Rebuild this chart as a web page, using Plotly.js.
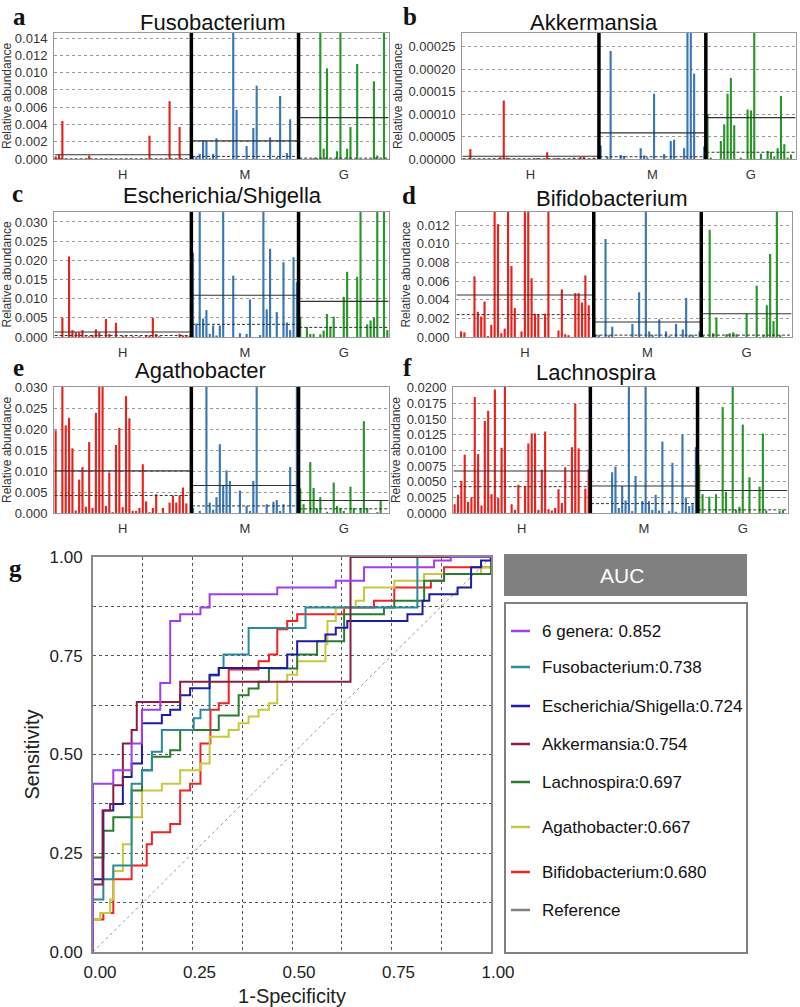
<!DOCTYPE html>
<html><head><meta charset="utf-8">
<script src="https://cdn.plot.ly/plotly-3.0.1.min.js"></script>
<style>html,body{margin:0;padding:0;background:#fff}#chart{width:800px;height:1007px}</style>
</head><body><div id="chart"></div>
<script>
// ---------- data ----------
const groupLabels = ['H', 'M', 'G'];
const groupSizes = [41, 32, 27];
const panelNames = ['Fusobacterium', 'Akkermansia', 'Escherichia/Shigella', 'Bifidobacterium', 'Agathobacter', 'Lachnospira'];
const panelLetters = ['a', 'b', 'c', 'd', 'e', 'f'];

const fusoH = [0.0003,0.0005,0.0044,0,0,0,0,0,0,0, 0.0004,0,0,0,0,0,0,0,0,0, 0,0,0,0,0,0,0,0,0.0027,0, 0,0,0,0,0.0067,0,0,0.0037,0,0, 0];
const fusoM = [0.0003,0.0003,0.0006,0.0022,0.0021,0.0001,0.0006,0.0024,0,0, 0,0,0.025,0.0057,0,0,0.0015,0,0.0036,0.0085, 0,0,0,0.0025,0,0.0002,0.0073,0,0.0007,0.0046, 0,0];
const fusoG = [0,0,0,0,0.0001,0.0001,0.02,0.0012,0.0105,0, 0,0.0009,0.02,0,0.0012,0.0037,0,0.011,0,0, 0,0,0.009,0.0004,0,0.02,0];
const fusoMean = [0.0005, 0.0021, 0.0048];
const fusoMedian = [0.00002, 0.0003, 0.0001];

const akkH = [0,0,0.000022,0,0,0,0,0,0,0, 0,0.000004,0.00013,0.000003,0,0,0,0,0,0, 0,0,0.000002,0,0,0.000015,0,0,0.000002,0, 0,0,0,0.000003,0,0.000005,0.000005,0,0,0.000003, 0];
const akkM = [0.00003,0,0.000005,0.00024,0,0,0.000009,0.000007,0,0, 0,0,0.000024,0.000008,0.000003,0,0.000145,0,0,0.000011, 0,0.00004,0.000043,0,0,0.000024,0.0004,0.0004,0.00019,0, 0,0.000028];
const akkG = [0.0001,0.000003,0,0,0.00004,0.000077,0.000145,0.00018,0.000075,0, 0.000003,0,0.00011,0.000108,0.0004,0,0.000012,0,0.000018,0.000016, 0.000006,0.000024,0.00014,0.000033,0.000003,0.00001,0];
const akkMean = [0.000006, 0.000058, 0.000092];
const akkMedian = [0.0000005, 0.000005, 0.000015];

const eschH = [0,0,0.005,0,0.021,0.0018,0.0012,0.0012,0.0018,0.0002, 0.0002,0.0005,0.002,0.0012,0,0.0047,0.0008,0,0.0037,0, 0.0003,0.0002,0,0.0002,0,0.0002,0,0.0003,0.0004,0.005, 0.0008,0.0002,0,0,0,0,0,0.0008,0.0004,0.0003, 0.0003];
const eschM = [0.022,0.0035,0.04,0.0048,0.007,0.0008,0.003,0.0004,0.003,0.04, 0,0,0.016,0,0.001,0,0.0008,0.0098,0,0, 0.0005,0.04,0.0072,0.023,0,0.0065,0,0.0195,0.0038,0.0018, 0.0208,0.0143];
const eschG = [0.0053,0,0.0026,0.0008,0.0008,0,0.0007,0.0017,0.006,0.0027, 0.0053,0,0,0.0105,0.017,0,0,0.0157,0.04,0, 0.0033,0.0043,0.005,0.04,0,0.04,0.0018];
const eschMean = [0.0013, 0.0109, 0.0093];
const eschMedian = [0.0004, 0.0033, 0.0025];

const bifiH = [0,0.0006,0.0005,0,0,0.0065,0.0027,0.0022,0.0038,0.0001, 0.0013,0.02,0.0121,0.0004,0.0009,0.02,0.0076,0.0031,0,0.0006, 0.02,0.02,0.0063,0.0025,0.0024,0,0.0025,0.02,0,0, 0.0007,0.0051,0.0003,0.0002,0,0.0047,0.0047,0.0037,0.0066,0.0034, 0];
const bifiM = [0.0002,0.0002,0,0.0105,0.0002,0.0011,0,0,0,0, 0,0.0014,0,0.0048,0,0.02,0.0006,0.0002,0,0.0019, 0,0.0006,0.0001,0,0.0014,0,0.0008,0.0042,0.0002,0.0002, 0,0.0006];
const bifiG = [0.0002,0,0.0115,0.0004,0.0021,0,0,0.0003,0.0004,0.0005, 0.0003,0,0,0.0025,0,0,0.0055,0,0.0002,0.0034, 0.0089,0.0017,0.02,0.0002,0,0,0];
const bifiMean = [0.0045, 0.0016, 0.0025];
const bifiMedian = [0.0024, 0.0002, 0.0002];

const agatH = [0.0198,0,0.035,0.021,0.0228,0.0155,0.0006,0.008,0.011,0.0015, 0.017,0.0012,0.024,0.035,0.035,0.0017,0.0097,0.0002,0.0163,0.0204, 0.0014,0.028,0.0227,0.0005,0.0005,0.0012,0.0117,0.0028,0.0002,0.0012, 0.0045,0,0.0012,0,0.0025,0.0042,0.0025,0.0042,0.0061,0.0023, 0];
const agatM = [0.0012,0,0.0005,0,0.035,0.0025,0.0008,0.0038,0.0165,0.0067, 0.0102,0.0077,0,0,0.0054,0,0.0017,0.0005,0.0077,0.035, 0,0,0.0021,0,0.0027,0.0031,0.0005,0.0021,0,0.011, 0,0.035];
const agatG = [0.0059,0.0021,0,0.0122,0.006,0.0011,0.0038,0,0.0003,0, 0.0073,0.0017,0.0012,0.0005,0,0.0063,0.0012,0,0.0012,0.022, 0.0012,0,0,0.0002,0.003,0,0];
const agatMean = [0.0101, 0.0066, 0.003];
const agatMedian = [0.0042, 0.0017, 0.001];

const lachH = [0.0014,0.0029,0.0051,0.0093,0.0018,0.0025,0.0185,0.0094,0.0012,0.0147, 0.0163,0.003,0.0197,0.0024,0.0104,0.025,0,0.0014,0.0005,0.0045, 0,0.0042,0.0111,0.0127,0.0127,0.0005,0.0069,0.013,0.0006,0.0004, 0.0008,0.0038,0.0016,0.0073,0,0.0105,0.0174,0.0103,0,0.0039, 0.007];
const lachM = [0,0,0,0,0,0,0.0065,0.0074,0.0008,0.0043, 0.002,0.025,0.0003,0.0059,0,0.0019,0.025,0.0019,0.0005,0.0029, 0.0004,0.0114,0,0.0003,0.008,0.0002,0,0.0125,0.0025,0.0011, 0.0014,0.0105];
const lachG = [0.0077,0.003,0,0.0026,0,0.003,0,0.0169,0.0034,0, 0.025,0.0005,0.001,0.0141,0,0.0057,0,0,0.0042,0.0127, 0.0004,0,0,0,0.0003,0.0005,0];
const lachMean = [0.0067, 0.0043, 0.0036];
const lachMedian = [0.0042, 0.0015, 0.0005];

// ROC curves (1-specificity, sensitivity)
const rocLabels = ['6 genera: 0.852','Fusobacterium:0.738','Escherichia/Shigella:0.724','Akkermansia:0.754','Lachnospira:0.697','Agathobacter:0.667','Bifidobacterium:0.680','Reference'];
const roc6Fpr = [0,0,0.051,0.097,0.123,0.169,0.194,0.219,0.270,0.293,0.463,0.610,0.681,0.857,0.899,1.0];
const roc6Tpr = [0,0.426,0.46,0.528,0.613,0.681,0.838,0.855,0.872,0.906,0.923,0.940,0.974,0.991,1.0,1.0];
const rocFusoFpr = [0,0,0.026,0.051,0.097,0.123,0.148,0.173,0.253,0.270,0.293,0.316,0.328,0.391,0.534,0.815,1.0];
const rocFusoTpr = [0,0.133,0.184,0.219,0.426,0.46,0.507,0.562,0.592,0.613,0.70,0.719,0.753,0.820,0.872,1.0,1.0];
const rocEschFpr = [0,0,0.026,0.051,0.075,0.097,0.123,0.173,0.194,0.219,0.244,0.293,0.316,0.488,0.513,0.584,0.610,0.639,0.790,0.828,0.845,0.916,0.950,0.975,1.0];
const rocEschTpr = [0,0.184,0.358,0.375,0.443,0.477,0.579,0.60,0.613,0.650,0.668,0.702,0.719,0.753,0.787,0.804,0.821,0.838,0.855,0.889,0.906,0.923,0.974,0.991,1.0];
const rocAkkFpr = [0,0,0.024,0.043,0.051,0.075,0.097,0.110,0.219,0.647,1.0];
const rocAkkTpr = [0,0.171,0.358,0.375,0.422,0.528,0.562,0.633,0.684,1.0,1.0];
const rocLachFpr = [0,0,0.026,0.051,0.097,0.123,0.148,0.194,0.219,0.316,0.366,0.391,0.416,0.442,0.513,0.563,0.631,0.731,0.757,0.832,0.882,1.0];
const rocLachTpr = [0,0.239,0.307,0.341,0.409,0.46,0.494,0.511,0.562,0.599,0.650,0.667,0.684,0.718,0.753,0.787,0.855,0.872,0.889,0.940,0.957,1.0];
const rocAgatFpr = [0,0,0.018,0.043,0.051,0.075,0.097,0.123,0.173,0.219,0.270,0.293,0.341,0.366,0.391,0.416,0.442,0.463,0.488,0.513,0.584,0.589,0.610,0.660,0.681,0.757,0.832,0.975,1.0];
const rocAgatTpr = [0,0.082,0.099,0.133,0.205,0.273,0.341,0.409,0.426,0.46,0.477,0.545,0.562,0.579,0.596,0.613,0.630,0.684,0.702,0.736,0.779,0.838,0.872,0.889,0.923,0.940,0.957,0.974,1.0];
const rocBifiFpr = [0,0,0.026,0.051,0.097,0.135,0.148,0.194,0.219,0.244,0.270,0.295,0.316,0.341,0.416,0.442,0.463,0.488,0.513,0.631,0.706,0.757,0.849,0.882,1.0];
const rocBifiTpr = [0,0.082,0.099,0.184,0.219,0.273,0.303,0.324,0.409,0.426,0.528,0.613,0.630,0.715,0.736,0.753,0.817,0.838,0.855,0.872,0.889,0.923,0.940,0.974,1.0];
const refFpr = [0, 1];
const refTpr = [0, 1];

// ---------- styling / layout ----------
const W = 800, H = 1007;
const px = x => x / W;
const py = y => 1 - y / H;
const barColors = ['#e8231e', '#3a78b5', '#2a952a'];
const panelData = [
  [fusoH, fusoM, fusoG, fusoMean, fusoMedian],
  [akkH, akkM, akkG, akkMean, akkMedian],
  [eschH, eschM, eschG, eschMean, eschMedian],
  [bifiH, bifiM, bifiG, bifiMean, bifiMedian],
  [agatH, agatM, agatG, agatMean, agatMedian],
  [lachH, lachM, lachG, lachMean, lachMedian]
];
const panelAxis = [
  {top: 0.0146, dtick: 0.002, fmt: '.3f'},
  {top: 0.00028, dtick: 0.00005, fmt: '.5f'},
  {top: 0.0326, dtick: 0.005, fmt: '.3f'},
  {top: 0.0134, dtick: 0.002, fmt: '.3f'},
  {top: 0.0302, dtick: 0.005, fmt: '.3f'},
  {top: 0.0201, dtick: 0.0025, fmt: '.4f'}
];
const panelBox = [
  {l: 54, r: 389, t: 33, b: 159},
  {l: 462, r: 796, t: 33, b: 159},
  {l: 54, r: 389, t: 212, b: 337},
  {l: 456, r: 792, t: 212, b: 337},
  {l: 54, r: 389, t: 387, b: 513},
  {l: 453, r: 788, t: 387, b: 513}
];
const titlePos = [[213, 22], [594, 22], [222, 195], [612, 198], [201, 370], [596, 372]];
const letterPos = [[19, 17], [410, 17], [17, 193], [409, 195], [18, 367], [407, 367]];

const FONT = 'Liberation Sans, Arial, sans-serif';
const SERIF = 'Liberation Serif, Times New Roman, serif';
const traces = [];
const shapes = [];
const annotations = [];
const layout = {
  width: W, height: H,
  margin: {l: 0, r: 0, t: 0, b: 0},
  paper_bgcolor: '#fff', plot_bgcolor: '#fff',
  showlegend: false,
  font: {family: FONT, color: '#222'},
  bargap: 0.38
};

const total = groupSizes.reduce((a, b) => a + b, 0);
const offsets = [0, groupSizes[0], groupSizes[0] + groupSizes[1]];

panelData.forEach((pd, i) => {
  const k = i + 1;
  const xa = 'x' + k, ya = 'y' + k;
  const box = panelBox[i];
  for (let g = 0; g < 3; g++) {
    const vals = pd[g];
    traces.push({
      type: 'bar', xaxis: xa, yaxis: ya,
      x: vals.map((_, j) => offsets[g] + j), y: vals,
      marker: {color: barColors[g], line: {width: 0}},
      width: 0.64, hoverinfo: 'skip'
    });
    const x0 = offsets[g] - 0.3, x1 = offsets[g] + groupSizes[g] - 0.7;
    traces.push({type: 'scatter', mode: 'lines', xaxis: xa, yaxis: ya,
      x: [x0, x1], y: [pd[3][g], pd[3][g]], line: {color: '#333', width: 1.1}, hoverinfo: 'skip'});
    traces.push({type: 'scatter', mode: 'lines', xaxis: xa, yaxis: ya,
      x: [x0, x1], y: [pd[4][g], pd[4][g]], line: {color: '#333', width: 1, dash: '3px,2px'}, hoverinfo: 'skip'});
  }
  [offsets[1] - 0.5, offsets[2] - 0.5].forEach(xv => {
    shapes.push({type: 'line', xref: xa, yref: ya + ' domain', x0: xv, x1: xv, y0: 0, y1: 1,
      line: {color: '#000', width: 3.5}, layer: 'above'});
  });
  const ax = panelAxis[i];
  layout['xaxis' + k] = {
    domain: [px(box.l), px(box.r)], anchor: ya,
    range: [-0.5, total - 0.5], fixedrange: true,
    tickvals: offsets.map((o, g) => o + (groupSizes[g] - 1) / 2), ticktext: groupLabels,
    ticks: '', showgrid: false, zeroline: false,
    showline: true, mirror: true, linecolor: '#999', linewidth: 1,
    tickfont: {size: 13, color: '#333', family: FONT}, ticklabelstandoff: 3
  };
  layout['yaxis' + k] = {
    domain: [py(box.b), py(box.t)], anchor: xa,
    range: [0, ax.top], dtick: ax.dtick, tick0: 0, tickformat: ax.fmt,
    ticks: '', showgrid: true, gridcolor: '#999', griddash: 'dot', gridwidth: 1,
    zeroline: false, showline: true, mirror: true, linecolor: '#999', linewidth: 1,
    tickfont: {size: 13, color: '#333', family: FONT}, ticklabelstandoff: 3,
    title: {text: 'Relative abundance', font: {size: 12, color: '#333', family: FONT}, standoff: 3}
  };
  annotations.push({xref: 'paper', yref: 'paper', x: px(titlePos[i][0]), y: py(titlePos[i][1]),
    text: panelNames[i], showarrow: false, xanchor: 'center', yanchor: 'middle',
    font: {size: 22, color: '#111', family: FONT}});
  annotations.push({xref: 'paper', yref: 'paper', x: px(letterPos[i][0]), y: py(letterPos[i][1]),
    text: '<b>' + panelLetters[i] + '</b>', showarrow: false, xanchor: 'center', yanchor: 'middle',
    font: {size: 25, color: '#111', family: SERIF}});
});

// ROC panel
const rocSeries = [
  {fpr: refFpr, tpr: refTpr, color: '#8a8a8a', label: rocLabels[7]},
  {fpr: rocBifiFpr, tpr: rocBifiTpr, color: '#f02424', label: rocLabels[6]},
  {fpr: rocAgatFpr, tpr: rocAgatTpr, color: '#c8c83c', label: rocLabels[5]},
  {fpr: rocLachFpr, tpr: rocLachTpr, color: '#2a7d2e', label: rocLabels[4]},
  {fpr: rocFusoFpr, tpr: rocFusoTpr, color: '#2b8a9a', label: rocLabels[1]},
  {fpr: rocEschFpr, tpr: rocEschTpr, color: '#1c1ca8', label: rocLabels[2]},
  {fpr: rocAkkFpr, tpr: rocAkkTpr, color: '#8c1c44', label: rocLabels[3]},
  {fpr: roc6Fpr, tpr: roc6Tpr, color: '#a23cf2', label: rocLabels[0]}
];
rocSeries.forEach((s, idx) => {
  traces.push({
    type: 'scatter', mode: 'lines', xaxis: 'x7', yaxis: 'y7',
    x: s.fpr, y: s.tpr, name: s.label,
    line: idx === 0 ? {color: '#999', width: 1, dash: 'dot'} : {color: s.color, width: 2, shape: 'hv'},
    hoverinfo: 'skip', cliponaxis: false
  });
});
const gridVals = [0, 0.125, 0.25, 0.375, 0.5, 0.625, 0.75, 0.875, 1];
const gridText = gridVals.map(v => (Math.round(v * 1000) % 250 === 0) ? v.toFixed(2) : '');
const rocBox = {l: 93, r: 491, t: 557, b: 952};
layout.xaxis7 = {
  domain: [px(rocBox.l), px(rocBox.r)], anchor: 'y7', range: [0, 1],
  tickvals: gridVals, ticktext: gridText, ticks: '', ticklabelshift: 7, ticklabelstandoff: 4,
  showgrid: true, gridcolor: '#555', griddash: '3px,3px', gridwidth: 1, zeroline: false,
  showline: true, mirror: true, linecolor: '#8a8a8a', linewidth: 2,
  tickfont: {size: 17, color: '#222', family: FONT},
  title: {text: '1-Specificity', font: {size: 20, color: '#222', family: FONT}, standoff: 10}
};
layout.yaxis7 = {
  domain: [py(rocBox.b), py(rocBox.t)], anchor: 'x7', range: [0, 1],
  tickvals: gridVals, ticktext: gridText, ticks: '', ticklabelstandoff: 5,
  showgrid: true, gridcolor: '#555', griddash: '3px,3px', gridwidth: 1, zeroline: false,
  showline: true, mirror: true, linecolor: '#8a8a8a', linewidth: 2,
  tickfont: {size: 17, color: '#222', family: FONT},
  title: {text: 'Sensitivity', font: {size: 20, color: '#222', family: FONT}, standoff: 5}
};
annotations.push({xref: 'paper', yref: 'paper', x: px(15), y: py(568), text: '<b>g</b>',
  showarrow: false, xanchor: 'center', yanchor: 'middle', font: {size: 25, color: '#111', family: SERIF}});

// Legend (AUC box)
shapes.push({type: 'rect', xref: 'paper', yref: 'paper', x0: px(504), x1: px(747), y0: py(596), y1: py(554),
  fillcolor: '#808080', line: {width: 0}});
annotations.push({xref: 'paper', yref: 'paper', x: px(622), y: py(575), text: 'AUC', showarrow: false,
  xanchor: 'center', yanchor: 'middle', font: {size: 21, color: '#fff', family: FONT}});
shapes.push({type: 'rect', xref: 'paper', yref: 'paper', x0: px(505), x1: px(747), y0: py(953), y1: py(603),
  fillcolor: '#fff', line: {color: '#808080', width: 2}});
const legendOrder = [7, 4, 5, 6, 3, 2, 1, 0];
const legendY = [631, 667, 706, 744, 782, 827, 872, 910];
legendOrder.forEach((si, r) => {
  const s = rocSeries[si];
  shapes.push({type: 'line', xref: 'paper', yref: 'paper', x0: px(511), x1: px(530), y0: py(legendY[r]), y1: py(legendY[r]),
    line: {color: si === 0 ? '#808080' : s.color, width: 2.5}});
  annotations.push({xref: 'paper', yref: 'paper', x: px(540), y: py(legendY[r]), text: s.label, showarrow: false,
    xanchor: 'left', yanchor: 'middle', font: {size: 17, color: '#111', family: FONT}});
});

layout.shapes = shapes;
layout.annotations = annotations;
Plotly.newPlot('chart', traces, layout, {staticPlot: true, displayModeBar: false});
</script></body></html>
